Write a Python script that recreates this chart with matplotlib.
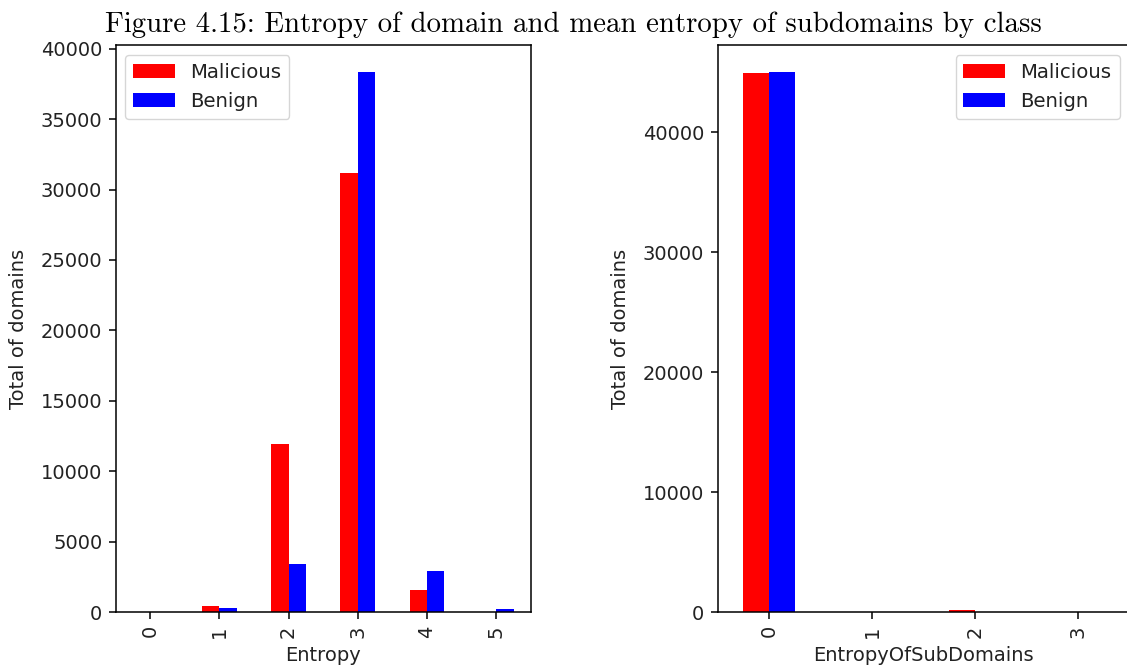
import numpy as np
import matplotlib
matplotlib.use("Agg")
import matplotlib.pyplot as plt

# entropy of domain
ent_cats = ["0", "1", "2", "3", "4", "5"]
ent_malicious = [0, 400, 11950, 31200, 1550, 0]
ent_benign = [0, 300, 3400, 38350, 2900, 200]

# mean entropy of subdomains
sub_cats = ["0", "1", "2", "3"]
sub_malicious = [44900, 0, 150, 0]
sub_benign = [45000, 0, 0, 0]

W = 0.25
FS = 14

plt.rcParams.update({
    "font.size": FS,
    "axes.linewidth": 1.1,
    "xtick.major.size": 5, "ytick.major.size": 5,
    "xtick.major.width": 1.1, "ytick.major.width": 1.1,
    "xtick.major.pad": 4.5, "ytick.major.pad": 4.5,
    "text.color": "#222222", "axes.labelcolor": "#222222",
    "xtick.labelcolor": "#222222", "ytick.labelcolor": "#222222",
})

fig = plt.figure(figsize=(11.27, 6.69), dpi=100)
ax1 = fig.add_axes([0.1025, 0.0852, 0.3685, 0.8475])
ax2 = fig.add_axes([0.6367, 0.0852, 0.3655, 0.8475])


def bars(ax, cats, mal, ben, xlabel):
    x = np.arange(len(cats))
    ax.bar(x - W / 2, mal, W, color="red", label="Malicious")
    ax.bar(x + W / 2, ben, W, color="blue", label="Benign")
    ax.set_xticks(x)
    ax.set_xticklabels(cats, rotation=90)
    ax.set_xlim(-0.5, len(cats) - 0.5)
    ax.set_ylim(0, max(max(mal), max(ben)) * 1.05)
    ax.set_xlabel(xlabel, labelpad=6)
    ax.set_ylabel("Total of domains", labelpad=9)
    ax.legend(loc="upper left" if len(cats) > 4 else "upper right",
              fontsize=14.2, handlelength=2.1)


bars(ax1, ent_cats, ent_malicious, ent_benign, "Entropy")
bars(ax2, sub_cats, sub_malicious, sub_benign, "EntropyOfSubDomains")
ax2.set_yticks([0, 10000, 20000, 30000, 40000])

fig.text(0.5085, 0.963, "Figure 4.15: Entropy of domain and mean entropy of subdomains by class",
         ha="center", va="center", family="cmr10", fontsize=20.8, color="black")

fig.savefig("out.png", dpi=100)
